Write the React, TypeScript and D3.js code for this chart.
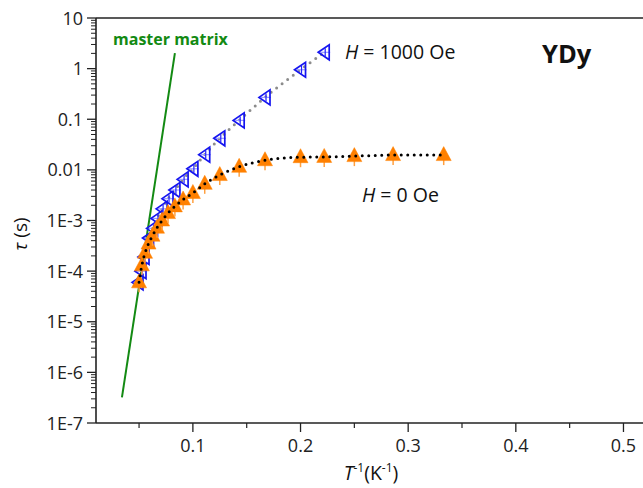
import React from "react";
import * as d3 from "d3";

// H = 0 Oe data (1/T, tau)
const zeroInvT = [0.333, 0.286, 0.25, 0.222, 0.2, 0.167, 0.143, 0.125, 0.111, 0.1, 0.0909, 0.0833, 0.0769, 0.0714, 0.0667, 0.0625, 0.0588, 0.0556, 0.0526, 0.05];
const zeroTau = [0.0196, 0.0196, 0.0187, 0.018, 0.0178, 0.0155, 0.0115, 0.0079, 0.0053, 0.0035, 0.0026, 0.0019, 0.0014, 0.001, 0.00072, 0.0005, 0.00035, 0.00023, 0.00013, 0.00006];

// H = 1000 Oe data
const fieldInvT = [0.222, 0.2, 0.167, 0.143, 0.125, 0.111, 0.1, 0.0909, 0.0833, 0.0769, 0.0714, 0.0667, 0.0625, 0.0588, 0.0546, 0.0518, 0.049];
const fieldTau = [2.1, 0.95, 0.27, 0.095, 0.042, 0.02, 0.0105, 0.0065, 0.004, 0.0027, 0.0017, 0.0011, 0.0007, 0.00045, 0.00019, 0.0001, 0.00006];

// master matrix line endpoints
const masterInvT = [0.0341, 0.0833];
const masterTau = [3.2e-7, 2.03];

const xTicks = [0.1, 0.2, 0.3, 0.4, 0.5];
const xTickLabels = ["0.1", "0.2", "0.3", "0.4", "0.5"];
const xMinorTicks = [0.05, 0.15, 0.25, 0.35, 0.45];
const yTicks = [10, 1, 0.1, 0.01, 1e-3, 1e-4, 1e-5, 1e-6, 1e-7];
const yTickLabels = ["10", "1", "0.1", "0.01", "1E-3", "1E-4", "1E-5", "1E-6", "1E-7"];

const FONT = "'Open Sans', 'Noto Sans', sans-serif";

export default function App() {
  const x = d3.scaleLinear().domain([0.01, 0.52]).range([96, 645]);
  const y = d3.scaleLog().domain([1e-7, 10]).range([423, 18]);

  const yMinor: number[] = [];
  for (let d = -7; d <= 0; d++) {
    for (let m = 2; m <= 9; m++) yMinor.push(m * Math.pow(10, d));
  }

  const zeroPts = zeroInvT.map((v, i) => [v, zeroTau[i]] as [number, number]).sort((a, b) => a[0] - b[0]);
  const fieldPts = fieldInvT.map((v, i) => [v, fieldTau[i]] as [number, number]).sort((a, b) => a[0] - b[0]);
  const line = d3
    .line<[number, number]>()
    .x((d) => x(d[0]))
    .y((d) => y(d[1]))
    .curve(d3.curveMonotoneX);

  const masterPts = masterInvT.map((v, i) => [v, masterTau[i]] as [number, number]);

  return (
    <svg
      width={643}
      height={488}
      style={{ position: "absolute", left: 0, top: 0, background: "#fff" }}
      fontFamily={FONT}
    >
      <defs>
        <clipPath id="plot">
          <rect x={96} y={18} width={560} height={405} />
        </clipPath>
      </defs>

      {/* axes frame */}
      <line x1={96} y1={18} x2={643} y2={18} stroke="#222" strokeWidth={1.6} />
      <line x1={96} y1={18} x2={96} y2={423} stroke="#222" strokeWidth={1.6} />
      <line x1={96} y1={423} x2={643} y2={423} stroke="#222" strokeWidth={1.6} />

      {/* x ticks */}
      {xTicks.map((t, i) => (
        <g key={"xt" + i}>
          <line x1={x(t)} x2={x(t)} y1={423} y2={432} stroke="#222" strokeWidth={1.3} />
          <text x={x(t)} y={452} textAnchor="middle" fontSize={18} fill="#222">
            {xTickLabels[i]}
          </text>
        </g>
      ))}
      {xMinorTicks.map((t, i) => (
        <line key={"xm" + i} x1={x(t)} x2={x(t)} y1={423} y2={428} stroke="#222" strokeWidth={1.2} />
      ))}

      {/* y ticks */}
      {yTicks.map((t, i) => (
        <g key={"yt" + i}>
          <line x1={87} x2={96} y1={y(t)} y2={y(t)} stroke="#222" strokeWidth={1.3} />
          <text x={83} y={y(t) + 6.5} textAnchor="end" fontSize={18} fill="#222">
            {yTickLabels[i]}
          </text>
        </g>
      ))}
      {yMinor.map((t, i) => (
        <line key={"ym" + i} x1={91} x2={96} y1={y(t)} y2={y(t)} stroke="#222" strokeWidth={1} />
      ))}

      <g clipPath="url(#plot)">
        {/* master matrix */}
        <path d={line.curve(d3.curveLinear)(masterPts) || ""} stroke="#138a13" strokeWidth={2} fill="none" />

        {/* fit lines */}
        <path
          d={line.curve(d3.curveMonotoneX)(fieldPts) || ""}
          stroke="#8c8c8c"
          strokeWidth={3}
          strokeLinecap="round"
          strokeDasharray="0 7"
          fill="none"
        />

        {/* H = 1000 Oe markers */}
        {fieldPts.map((p, i) => {
          const cx = x(p[0]);
          const cy = y(p[1]);
          return (
            <g key={"f" + i}>
              <line x1={cx - 4} x2={cx + 6} y1={cy} y2={cy} stroke="#9a9aff" strokeWidth={1.2} />
              <line x1={cx + 1} x2={cx + 1} y1={cy - 4} y2={cy + 4} stroke="#2020ff" strokeWidth={1.2} />
              <path
                d={`M${cx - 6},${cy} L${cx + 5},${cy - 7.5} L${cx + 5},${cy + 7.5} Z`}
                fill="none"
                stroke="#1515f0"
                strokeWidth={1.7}
              />
            </g>
          );
        })}

        {/* H = 0 markers */}
        {zeroPts.map((p, i) => {
          const cx = x(p[0]);
          const cy = y(p[1]);
          return (
            <g key={"z" + i}>
              <line x1={cx} x2={cx} y1={cy + 4} y2={cy + 10} stroke="#ffa040" strokeWidth={1.5} />
              <path
                d={`M${cx},${cy - 8.5} L${cx - 7.5},${cy + 5.5} L${cx + 7.5},${cy + 5.5} Z`}
                fill="#ff8000"
                stroke="#ff8000"
                strokeWidth={0.5}
              />
            </g>
          );
        })}

        <path
          d={line.curve(d3.curveMonotoneX)(zeroPts) || ""}
          stroke="#000"
          strokeWidth={3}
          strokeLinecap="round"
          strokeDasharray="0 6.5"
          fill="none"
        />
      </g>

      {/* annotations */}
      <text x={113} y={45} fontSize={16} fontWeight="bold" fill="#138a13">
        master matrix
      </text>
      <text x={345} y={59} fontSize={19.5} fill="#111">
        <tspan fontStyle="italic">H</tspan>
        <tspan> = 1000 Oe</tspan>
      </text>
      <text x={362} y={202} fontSize={19.5} fill="#111">
        <tspan fontStyle="italic">H</tspan>
        <tspan> = 0 Oe</tspan>
      </text>
      <text x={542} y={63} fontSize={25.5} fontWeight="bold" fill="#111">
        YDy
      </text>

      {/* axis labels */}
      <text transform="translate(27,234) rotate(-90)" textAnchor="middle" fontSize={19} fill="#111">
        <tspan fontStyle="italic">τ</tspan>
        <tspan> (s)</tspan>
      </text>
      <text x={371} y={480} textAnchor="middle" fontSize={19.5} fill="#111">
        <tspan fontStyle="italic">T</tspan>
        <tspan fontSize={12} dy={-8}>-1</tspan>
        <tspan dy={8}>(K</tspan>
        <tspan fontSize={12} dy={-8}>-1</tspan>
        <tspan dy={8}>)</tspan>
      </text>
    </svg>
  );
}
